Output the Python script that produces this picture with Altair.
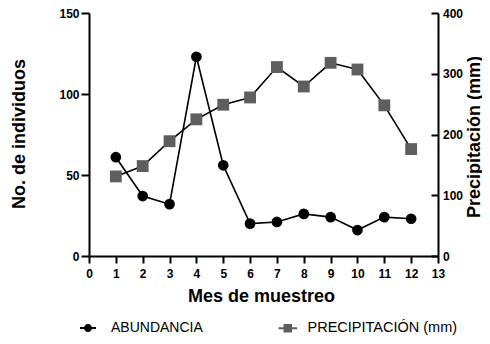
import altair as alt
import pandas as pd

# ---- data ----
months = list(range(1, 13))
abundancia = [61, 37, 32, 123, 56, 20, 21, 26, 24, 16, 24, 23]
precipitacion = [131, 148, 189, 225, 249, 261, 311, 279, 318, 307, 248, 176]
x_ticks = list(range(0, 14))
left_ticks = [0, 50, 100, 150]
right_ticks = [0, 100, 200, 300, 400]
series_names = ["ABUNDANCIA", "PRECIPITACIÓN (mm)"]

df = pd.DataFrame({"mes": months, "abundancia": abundancia, "precipitacion": precipitacion})

W, H = 349, 243
FONT = "Liberation Sans"
GRAY = "#5e5e5e"

x_enc = alt.X(
    "mes:Q",
    scale=alt.Scale(domain=[0, 13], nice=False),
    axis=alt.Axis(values=x_ticks, title="Mes de muestreo", tickSize=7, labelPadding=5,
                  titleX=172, titleY=45, titleAlign="center", titleBaseline="alphabetic",
                  labelFlush=False),
)
y_left = alt.Y(
    "abundancia:Q",
    scale=alt.Scale(domain=[0, 150], nice=False),
    axis=alt.Axis(orient="left", values=left_ticks, title="No. de individuos", tickSize=8,
                  labelPadding=2, titleX=-69.5, titleY=H / 2 - 1, titleAngle=270,
                  titleAlign="center", titleBaseline="middle"),
)
y_right = alt.Y(
    "precipitacion:Q",
    scale=alt.Scale(domain=[0, 400], nice=False),
    axis=alt.Axis(orient="left", offset=-W, values=right_ticks, title="Precipitación (mm)",
                  tickSize=7, labelPadding=-11.5, labelAlign="left", titleX=36,
                  titleY=H / 2 + 2, titleAngle=270, titleAlign="center", titleBaseline="middle"),
)

base = alt.Chart(df)
ab_line = base.mark_line(color="black", strokeWidth=1.6).encode(x=x_enc, y=y_left)
ab_pts = base.mark_point(shape="circle", filled=True, color="black", size=115, opacity=1).encode(x=x_enc, y=y_left)
pr_line = base.mark_line(color="black", strokeWidth=1.6).encode(x=x_enc, y=y_right)
pr_pts = base.mark_point(shape="square", filled=True, color=GRAY, size=140, opacity=1).encode(x=x_enc, y=y_right)

abund_layer = alt.layer(ab_line, ab_pts)
precip_layer = alt.layer(pr_line, pr_pts)

circ_path = ("M-1.6,-0.18H1.6V0.18H-1.6Z"
             "M0.8,0A0.8,0.8,0,1,1,-0.8,0A0.8,0.8,0,1,1,0.8,0Z")
sq_path = "M-1.85,-0.18H1.85V0.18H-1.85ZM-0.85,-0.85H0.85V0.85H-0.85Z"


def legend_layer(name, path, fill, lx, ly, offset, fsize):
    return (
        base.transform_filter("datum.mes < 0")
        .transform_calculate(s=f"'{name}'")
        .mark_point(filled=True, fill=fill, opacity=1)
        .encode(
            shape=alt.Shape(
                "s:N",
                scale=alt.Scale(domain=[name], range=[path]),
                legend=alt.Legend(
                    title=None, orient="none", legendX=lx, legendY=ly, padding=0,
                    labelFont=FONT, labelFontSize=fsize, labelColor="black",
                    labelOffset=offset, labelLimit=300, symbolSize=100,
                    symbolFillColor=fill, symbolOpacity=1,
                ),
            )
        )
    )


leg1 = legend_layer(series_names[0], circ_path, "black", -8, 308, 16, 14)
leg2 = legend_layer(series_names[1], sq_path, GRAY, 191.5, 308, 12.5, 14.5)

chart = (
    alt.layer(abund_layer, precip_layer, leg1, leg2)
    .resolve_scale(y="independent", shape="independent")
    .properties(
        width=W, height=H,
        autosize=alt.AutoSizeParams(type="none"),
        padding={"left": 81, "top": 5, "right": 44, "bottom": 80},
    )
    .configure_view(stroke=None)
    .configure_axis(
        grid=False, domainColor="black", domainWidth=2, tickColor="black", tickWidth=2,
        labelFont=FONT, labelFontSize=12, labelFontWeight="bold", labelColor="black",
        titleFont=FONT, titleFontSize=18, titleFontWeight="bold", titleColor="black",
    )
)

chart.save("out.html", embed_options={"renderer": "svg", "actions": False})
